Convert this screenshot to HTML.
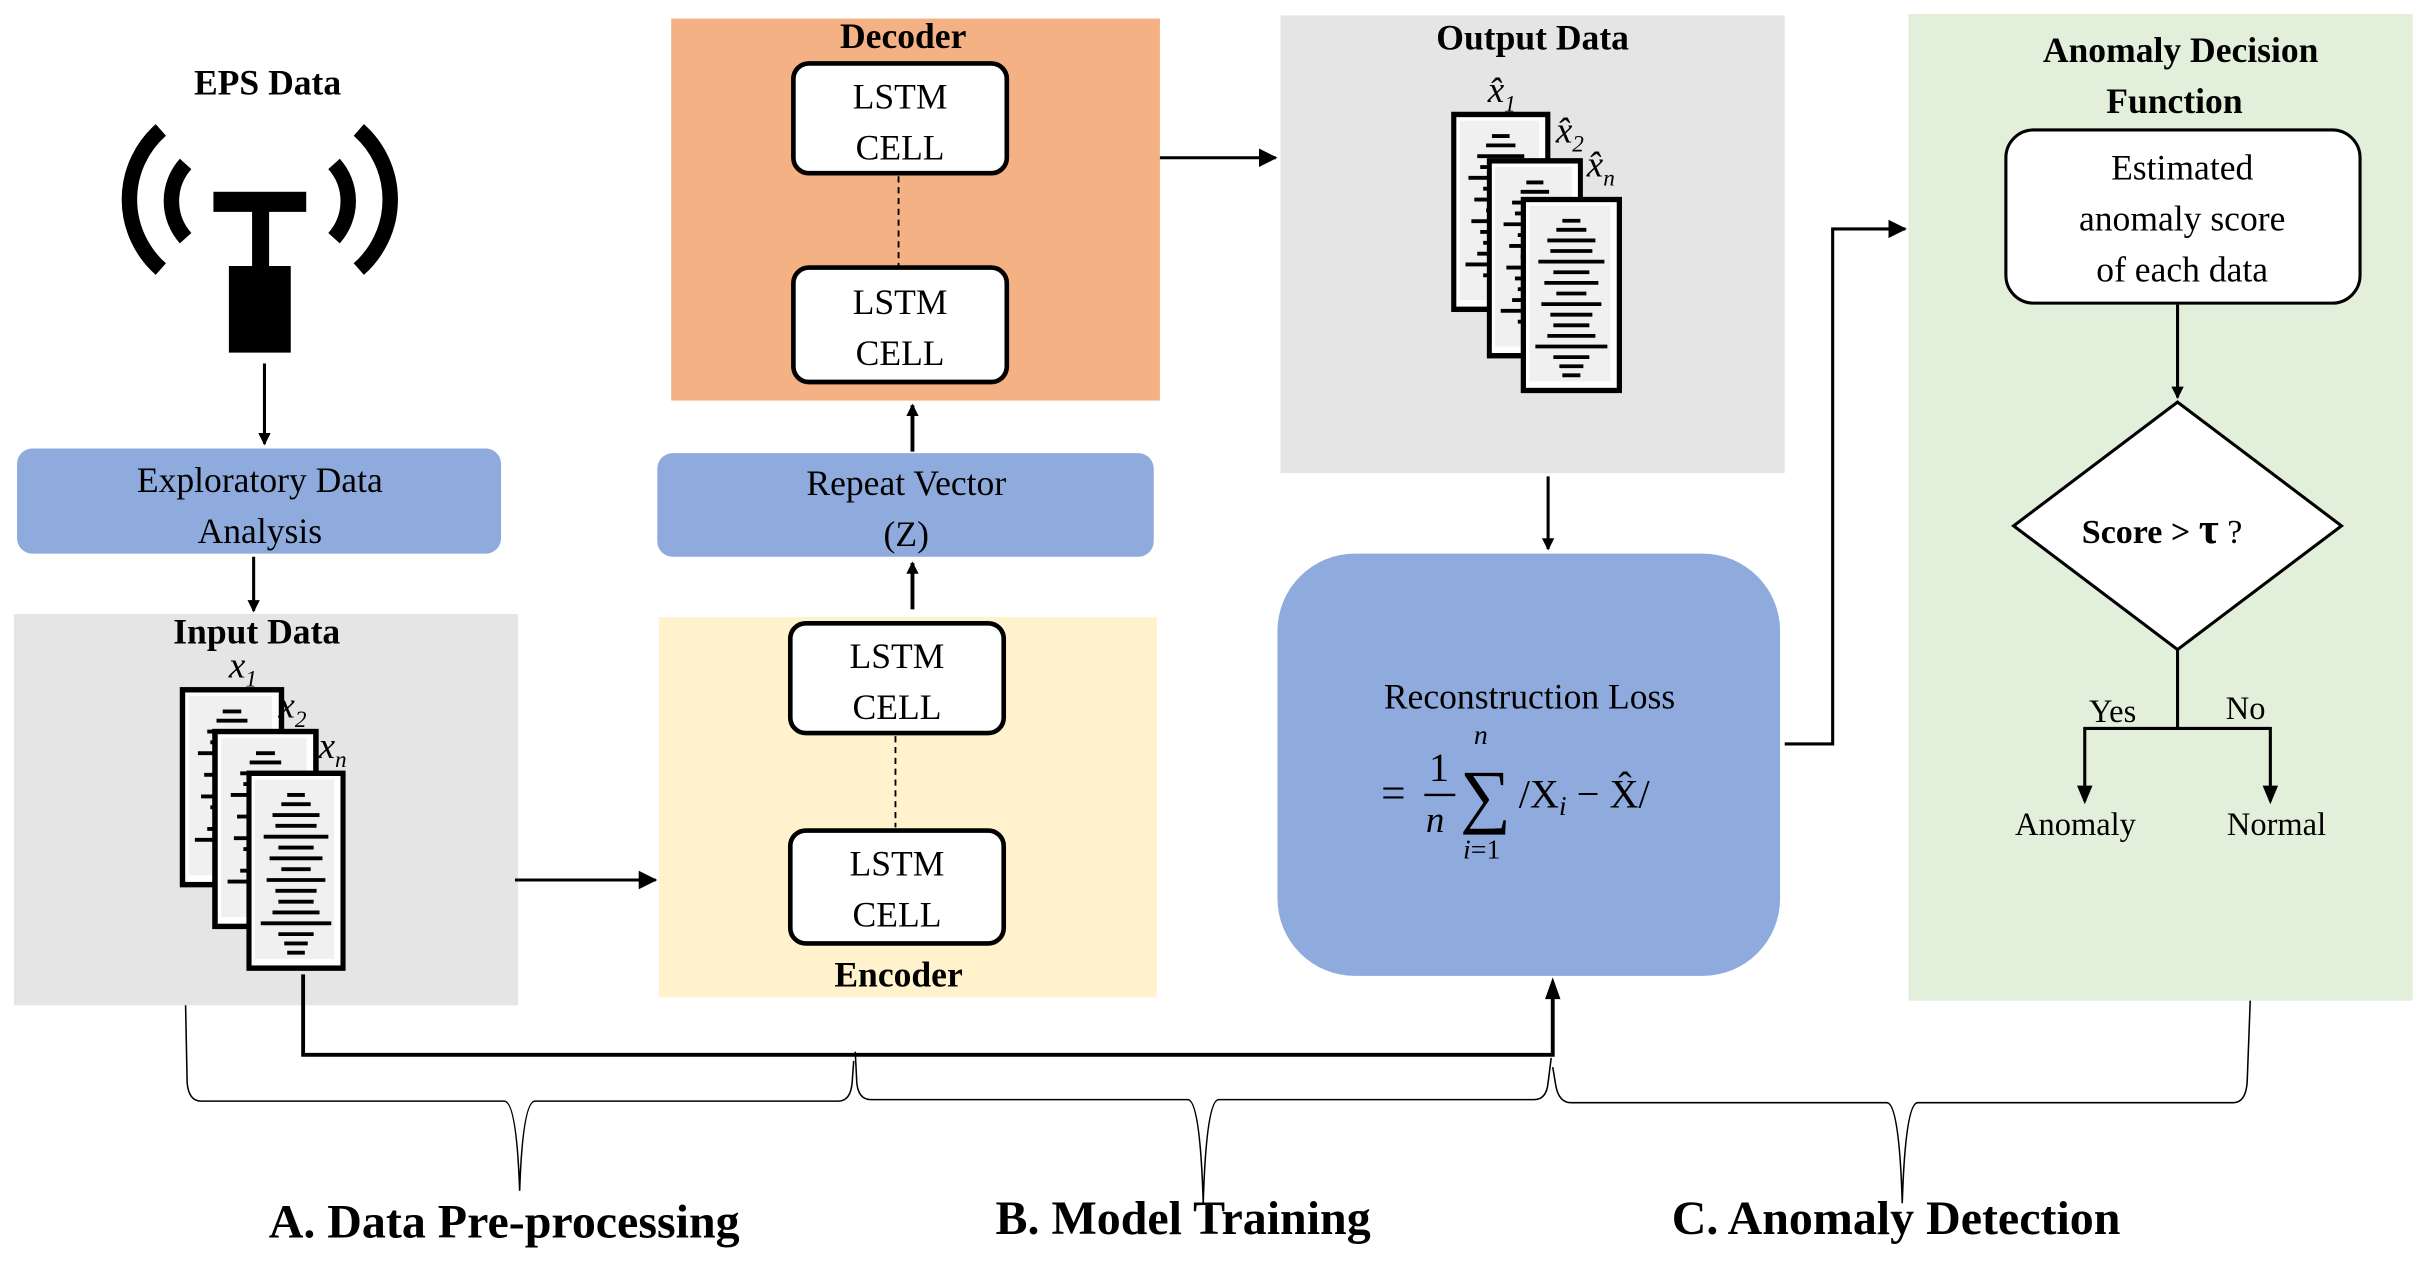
<!DOCTYPE html>
<html><head><meta charset="utf-8"><style>
html,body{margin:0;padding:0;background:#fff;}
svg{display:block;font-family:"Liberation Serif","Times New Roman",Times,serif;}
svg text{font-family:"Liberation Serif","Times New Roman",Times,serif;fill:#000;}
.b{font-weight:bold;}
</style></head><body>
<svg width="2425" height="1262" viewBox="0 0 1568 816" preserveAspectRatio="none" xmlns="http://www.w3.org/2000/svg" font-family="Liberation Serif, Times New Roman, serif">
<defs>
<marker id="ah" markerWidth="8" markerHeight="8" refX="7" refY="4" orient="auto" markerUnits="userSpaceOnUse"><path d="M0,0 L8,4 L0,8 Z" fill="#000"/></marker>
<marker id="ah2" markerWidth="12" markerHeight="12" refX="11" refY="6" orient="auto" markerUnits="userSpaceOnUse"><path d="M0,0 L12,6 L0,12 Z" fill="#000"/></marker>
<g id="doc">
<rect x="0" y="0" width="64" height="126" fill="#fff" stroke="#000" stroke-width="3.5"/>
<rect x="4" y="4" width="54" height="116" fill="#f0f0f0"/>
<g stroke="#000" stroke-width="2.5">
<line x1="26" y1="14" x2="38" y2="14"/><line x1="22" y1="20" x2="42" y2="20"/><line x1="16" y1="27" x2="48" y2="27"/>
<line x1="18" y1="34" x2="46" y2="34"/><line x1="10" y1="41" x2="54" y2="41"/><line x1="20" y1="48" x2="44" y2="48"/>
<line x1="14" y1="55" x2="50" y2="55"/><line x1="22" y1="62" x2="42" y2="62"/><line x1="12" y1="69" x2="52" y2="69"/>
<line x1="18" y1="76" x2="46" y2="76"/><line x1="20" y1="83" x2="44" y2="83"/><line x1="16" y1="90" x2="48" y2="90"/>
<line x1="8" y1="97" x2="56" y2="97"/><line x1="20" y1="104" x2="44" y2="104"/><line x1="24" y1="110" x2="40" y2="110"/><line x1="26" y1="116" x2="38" y2="116"/>
</g>
</g>
</defs>

<rect x="9" y="397" width="326" height="253" fill="#e5e5e5"/>
<rect x="426" y="399" width="322" height="246" fill="#fff2cc"/>
<rect x="434" y="12" width="316" height="247" fill="#f4b183"/>
<rect x="828" y="10" width="326" height="296" fill="#e5e5e5"/>
<rect x="1234" y="9" width="326" height="638" fill="#e2efda"/>

<text x="173" y="61" text-anchor="middle" class="b" font-size="23">EPS Data</text>
<g fill="none" stroke="#000" stroke-width="10">
<path d="M104,84 A60,60 0 0 0 104,174"/>
<path d="M120,106 A36,36 0 0 0 120,154"/>
<path d="M232,84 A60,60 0 0 1 232,174"/>
<path d="M216,106 A36,36 0 0 1 216,154"/>
</g>
<rect x="138" y="124" width="60" height="13" fill="#000"/>
<rect x="163" y="136" width="11" height="38" fill="#000"/>
<rect x="148" y="172" width="40" height="56" fill="#000"/>
<line x1="171" y1="235" x2="171" y2="287" stroke="#000" stroke-width="2" marker-end="url(#ah)"/>

<rect x="11" y="290" width="313" height="68" rx="10" fill="#8faadc"/>
<text x="168" y="318" text-anchor="middle" font-size="23">Exploratory Data</text>
<text x="168" y="351" text-anchor="middle" font-size="23">Analysis</text>
<line x1="164" y1="360" x2="164" y2="395" stroke="#000" stroke-width="2" marker-end="url(#ah)"/>

<text x="166" y="416" text-anchor="middle" class="b" font-size="23">Input Data</text>
<use href="#doc" transform="translate(118,446)"/>
<use href="#doc" transform="translate(139,473) scale(1.02,1)"/>
<use href="#doc" transform="translate(161,500) scale(0.95,1)"/>
<text x="148" y="438" font-size="24" font-style="italic">x<tspan font-size="15" dy="6">1</tspan></text>
<text x="180" y="464" font-size="24" font-style="italic">x<tspan font-size="15" dy="6">2</tspan></text>
<text x="206" y="490" font-size="24" font-style="italic">x<tspan font-size="15" dy="6">n</tspan></text>
<line x1="333" y1="569" x2="424" y2="569" stroke="#000" stroke-width="2" marker-end="url(#ah2)"/>

<rect x="511" y="403" width="138" height="71" rx="10" fill="#fff" stroke="#000" stroke-width="3"/>
<text x="580" y="432" text-anchor="middle" font-size="23">LSTM</text>
<text x="580" y="465" text-anchor="middle" font-size="23">CELL</text>
<line x1="579" y1="476" x2="579" y2="535" stroke="#000" stroke-width="1.2" stroke-dasharray="4,3"/>
<rect x="511" y="537" width="138" height="73" rx="10" fill="#fff" stroke="#000" stroke-width="3"/>
<text x="580" y="566" text-anchor="middle" font-size="23">LSTM</text>
<text x="580" y="599" text-anchor="middle" font-size="23">CELL</text>
<text x="581" y="638" text-anchor="middle" class="b" font-size="23">Encoder</text>

<line x1="590" y1="394" x2="590" y2="364" stroke="#000" stroke-width="2.5" marker-end="url(#ah)"/>
<rect x="425" y="293" width="321" height="67" rx="10" fill="#8faadc"/>
<text x="586" y="320" text-anchor="middle" font-size="23">Repeat Vector</text>
<text x="586" y="353" text-anchor="middle" font-size="23">(Z)</text>
<line x1="590" y1="292" x2="590" y2="262" stroke="#000" stroke-width="2.5" marker-end="url(#ah)"/>

<text x="584" y="31" text-anchor="middle" class="b" font-size="23">Decoder</text>
<rect x="513" y="41" width="138" height="71" rx="10" fill="#fff" stroke="#000" stroke-width="3"/>
<text x="582" y="70" text-anchor="middle" font-size="23">LSTM</text>
<text x="582" y="103" text-anchor="middle" font-size="23">CELL</text>
<line x1="581" y1="114" x2="581" y2="172" stroke="#000" stroke-width="1.2" stroke-dasharray="4,3"/>
<rect x="513" y="173" width="138" height="74" rx="10" fill="#fff" stroke="#000" stroke-width="3"/>
<text x="582" y="203" text-anchor="middle" font-size="23">LSTM</text>
<text x="582" y="236" text-anchor="middle" font-size="23">CELL</text>
<line x1="750" y1="102" x2="825" y2="102" stroke="#000" stroke-width="2" marker-end="url(#ah2)"/>

<text x="991" y="32" text-anchor="middle" class="b" font-size="23">Output Data</text>
<use href="#doc" transform="translate(940,74) scale(0.95,1)"/>
<use href="#doc" transform="translate(963,104) scale(0.92,1)"/>
<use href="#doc" transform="translate(985,129) scale(0.97,0.98)"/>
<text x="962" y="66" font-size="24" font-style="italic">x̂<tspan font-size="15" dy="6">1</tspan></text>
<text x="1006" y="92" font-size="24" font-style="italic">x̂<tspan font-size="15" dy="6">2</tspan></text>
<text x="1026" y="114" font-size="24" font-style="italic">x̂<tspan font-size="15" dy="6">n</tspan></text>
<line x1="1001" y1="308" x2="1001" y2="355" stroke="#000" stroke-width="2" marker-end="url(#ah)"/>

<rect x="826" y="358" width="325" height="273" rx="50" fill="#8faadc"/>
<text x="989" y="458" text-anchor="middle" font-size="23">Reconstruction Loss</text>
<text x="893" y="522" font-size="28">=</text>
<text x="924" y="505" font-size="26">1</text>
<line x1="921" y1="514" x2="941" y2="514" stroke="#000" stroke-width="1.5"/>
<text x="922" y="538" font-size="24" font-style="italic">n</text>
<text x="953" y="481" font-size="18" font-style="italic">n</text>
<text x="944" y="530" font-size="46">∑</text>
<text x="946" y="555" font-size="18"><tspan font-style="italic">i</tspan>=1</text>
<text x="982" y="522" font-size="26">/X<tspan font-size="18" font-style="italic" dy="5">i</tspan><tspan dy="-5"> − X̂/</tspan></text>

<polyline points="1154,481 1185,481 1185,148 1232,148" fill="none" stroke="#000" stroke-width="2" marker-end="url(#ah2)"/>

<text x="1410" y="40" text-anchor="middle" class="b" font-size="23">Anomaly Decision</text>
<text x="1406" y="73" text-anchor="middle" class="b" font-size="23">Function</text>
<rect x="1297" y="84" width="229" height="112" rx="18" fill="#fff" stroke="#000" stroke-width="2"/>
<text x="1411" y="116" text-anchor="middle" font-size="23">Estimated</text>
<text x="1411" y="149" text-anchor="middle" font-size="23">anomaly score</text>
<text x="1411" y="182" text-anchor="middle" font-size="23">of each data</text>
<line x1="1408" y1="197" x2="1408" y2="257" stroke="#000" stroke-width="2" marker-end="url(#ah)"/>
<polygon points="1408,260 1514,340 1408,420 1302,340" fill="#fff" stroke="#000" stroke-width="2"/>
<text x="1398" y="351" text-anchor="middle" font-size="22"><tspan font-weight="bold">Score &gt; </tspan><tspan font-weight="bold" font-size="28">τ</tspan> ?</text>
<polyline points="1408,420 1408,471" fill="none" stroke="#000" stroke-width="2"/>
<polyline points="1348,518 1348,471 1468,471 1468,518" fill="none" stroke="#000" stroke-width="2"/>
<path d="M1343,508 L1348,520 L1353,508 Z M1463,508 L1468,520 L1473,508 Z" fill="#000"/>
<text x="1366" y="467" text-anchor="middle" font-size="21">Yes</text>
<text x="1452" y="465" text-anchor="middle" font-size="21">No</text>
<text x="1342" y="540" text-anchor="middle" font-size="21">Anomaly</text>
<text x="1472" y="540" text-anchor="middle" font-size="21">Normal</text>

<polyline points="196,630 196,682 1004,682 1004,636" fill="none" stroke="#000" stroke-width="2.5"/>
<path d="M999,646 L1004,632 L1009,646 Z" fill="#000"/>

<g fill="none" stroke="#000" stroke-width="1">
<path d="M120,650 L121,700 Q122,712 130,712 L326,712 Q334,712 336,770 Q338,712 346,712 L542,712 Q550,712 551,700 L552,686"/>
<path d="M553,680 L554,700 Q555,711 563,711 L768,711 Q776,711 778,778 Q780,711 788,711 L992,711 Q1000,711 1001,700 L1003,684"/>
<path d="M1004,690 L1006,702 Q1008,713 1016,713 L1220,713 Q1228,713 1230,778 Q1232,713 1240,713 L1444,713 Q1452,713 1453,700 L1455,647"/>
</g>
<text x="326" y="800" text-anchor="middle" class="b" font-size="31">A. Data Pre-processing</text>
<text x="765" y="798" text-anchor="middle" class="b" font-size="31">B. Model Training</text>
<text x="1226" y="798" text-anchor="middle" class="b" font-size="31">C. Anomaly Detection</text>
</svg>
</body></html>
